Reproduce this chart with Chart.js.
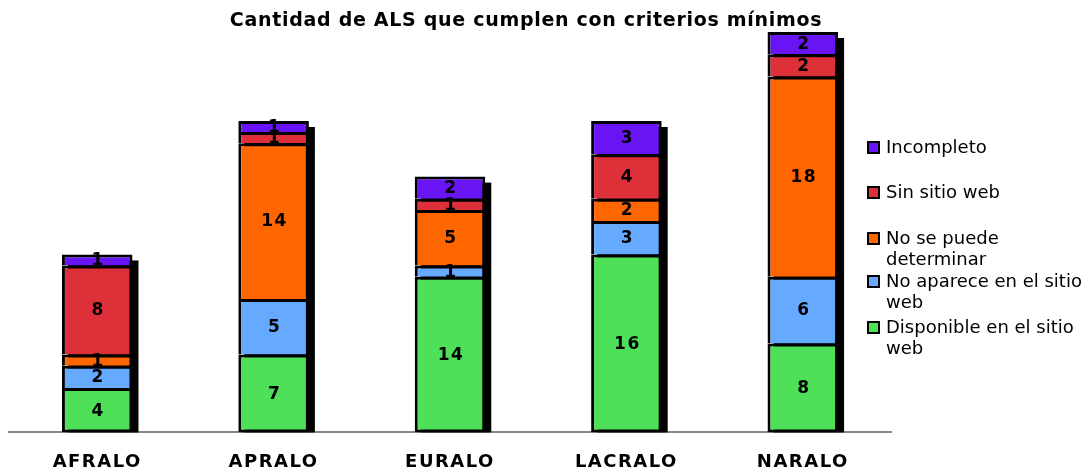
<!DOCTYPE html>
<html lang="es">
<head>
  <meta charset="UTF-8">
  <title>Cantidad de ALS que cumplen con criterios mínimos</title>
  <script src="https://cdn.jsdelivr.net/npm/chart.js"></script>
  <style>
    body {
      margin: 0;
      background: #fff;
      font-family: "DejaVu Sans", Verdana, sans-serif;
    }
    .wrap {
      position: relative;
      width: 1090px;
      height: 474px;
    }
    .title {
      position: absolute;
      left: 0;
      width: 1052px;
      top: 8px;
      line-height: 22px;
      text-align: center;
      font-weight: bold;
      font-size: 19px;
      letter-spacing: 0.7px;
      color: #000;
    }
    .legend-item {
      position: absolute;
      left: 867px;
      width: 225px;
      font-size: 18px;
      line-height: 21px;
      color: #000;
      padding-left: 19px;
      white-space: nowrap;
    }
    .legend-item .box {
      position: absolute;
      left: 0;
      top: 5px;
      width: 9px;
      height: 9px;
      border: 2px solid #000;
    }
  </style>
</head>
<body>

  <div class="wrap">
    <canvas id="alsChart" width="1090" height="474"></canvas>
    <div class="title">Cantidad de ALS que cumplen con criterios mínimos</div>
    <div id="legend"></div>
  </div>

  <script>
    const categories = ['AFRALO', 'APRALO', 'EURALO', 'LACRALO', 'NARALO'];
    const seriesNames = [
      'Disponible en el sitio web',
      'No aparece en el sitio web',
      'No se puede determinar',
      'Sin sitio web',
      'Incompleto'
    ];
    const disponible = [4, 7, 14, 16, 8];
    const noAparece = [2, 5, 1, 3, 6];
    const noDeterminar = [1, 14, 5, 2, 18];
    const sinSitio = [8, 1, 1, 4, 2];
    const incompleto = [1, 1, 2, 3, 2];
    const colors = ['#4de058', '#66aaff', '#ff6600', '#de3039', '#6914f5'];

    const seriesValues = [disponible, noAparece, noDeterminar, sinSitio, incompleto];

    // wider lettering, closer to the original Verdana look
    const spacingPlugin = {
      id: 'spacing',
      beforeDraw(chart) {
        chart.ctx.letterSpacing = '1.5px';
      }
    };

    // black drop shadow behind each stack
    const shadowPlugin = {
      id: 'shadow',
      beforeDatasetsDraw(chart) {
        const ctx = chart.ctx;
        const y = chart.scales.y;
        const meta = chart.getDatasetMeta(0);
        ctx.save();
        ctx.fillStyle = '#000';
        categories.forEach((c, i) => {
          const total = seriesValues.reduce((s, arr) => s + arr[i], 0);
          const bar = meta.data[i];
          const top = y.getPixelForValue(total);
          const left = bar.x - bar.width / 2 + 6;
          ctx.fillRect(left, top + 6, bar.width, y.getPixelForValue(0) - top - 6);
        });
        ctx.restore();
      }
    };

    // value labels in the middle of each segment
    const labelPlugin = {
      id: 'segLabels',
      afterDatasetsDraw(chart) {
        const ctx = chart.ctx;
        ctx.save();
        ctx.font = 'bold 17px "DejaVu Sans", Verdana, sans-serif';
        ctx.letterSpacing = '1.5px';
        ctx.fillStyle = '#000';
        ctx.textAlign = 'center';
        ctx.textBaseline = 'middle';
        chart.data.datasets.forEach((ds, d) => {
          chart.getDatasetMeta(d).data.forEach((bar, i) => {
            const mid = (bar.y + bar.base) / 2;
            ctx.fillText(ds.data[i], bar.x + 1, mid + 1);
          });
        });
        ctx.restore();
      }
    };

    new Chart(document.getElementById('alsChart'), {
      type: 'bar',
      data: {
        labels: categories,
        datasets: seriesNames.map((name, k) => ({
          label: name,
          data: seriesValues[k],
          backgroundColor: colors[k],
          borderColor: '#000',
          borderWidth: 3,
          borderSkipped: k === 0 ? false : 'start',
          barPercentage: 0.4,
          categoryPercentage: 1
        }))
      },
      options: {
        responsive: false,
        animation: false,
        layout: {
          padding: { left: 9, right: 199, top: 32, bottom: -18 }
        },
        plugins: {
          legend: { display: false },
          tooltip: { enabled: false }
        },
        scales: {
          x: {
            stacked: true,
            grid: { display: false, drawTicks: false },
            border: { color: '#888', width: 2 },
            ticks: {
              color: '#000',
              padding: 19,
              font: { family: '"DejaVu Sans", Verdana, sans-serif', size: 18, weight: 'bold' }
            }
          },
          y: {
            stacked: true,
            display: false,
            min: 0,
            max: 36
          }
        }
      },
      plugins: [spacingPlugin, shadowPlugin, labelPlugin]
    });

    // legend on the right, top entry = last series
    const legendTops = [136, 181, 227, 270, 316];
    const legend = document.getElementById('legend');
    const legendText = [
      'Incompleto',
      'Sin sitio web',
      'No se puede<br>determinar',
      'No aparece en el sitio<br>web',
      'Disponible en el sitio<br>web'
    ];
    legendText.forEach((txt, j) => {
      const k = seriesNames.length - 1 - j;
      const item = document.createElement('div');
      item.className = 'legend-item';
      item.style.top = legendTops[j] + 'px';
      item.innerHTML = '<span class="box" style="background:' + colors[k] + '"></span>' + txt;
      legend.appendChild(item);
    });
  </script>

</body>
</html>
